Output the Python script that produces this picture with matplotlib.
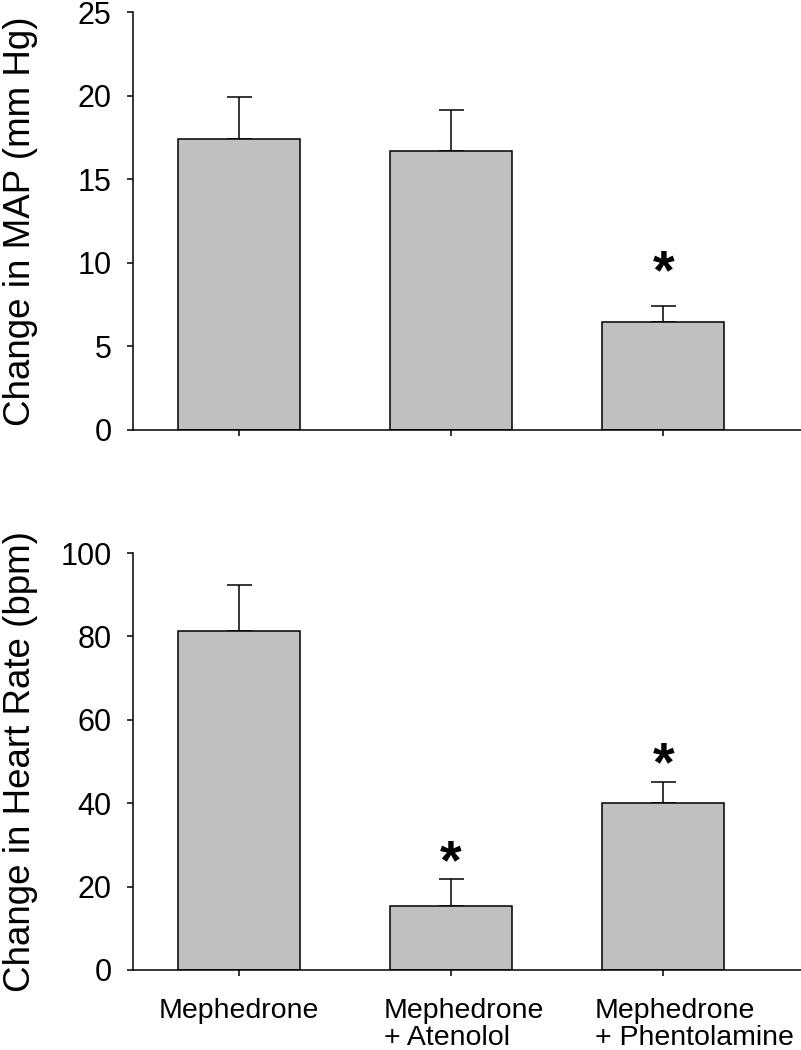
import matplotlib
matplotlib.use("Agg")
import matplotlib.pyplot as plt
from matplotlib.transforms import ScaledTranslation

plt.rcParams['font.family'] = ['Liberation Sans', 'DejaVu Sans']

# ------------------------------
# Data
# ------------------------------
groups = ["Mephedrone", "Mephedrone\n+ Atenolol", "Mephedrone\n+ Phentolamine"]

map_mean = [17.45, 16.7, 6.45]
map_sem = [2.5, 2.45, 1.0]
map_star = [None, None, 10.0]

hr_mean = [81.4, 15.3, 40.1]
hr_sem = [10.9, 6.6, 5.0]
hr_star = [None, 28.1, 51.6]

bar_color = '#c0c0c0'

fig = plt.figure(figsize=(8.01, 10.5), dpi=100)
ax_top = fig.add_axes([0.166, 0.5905, 0.834, 0.3976])
ax_bot = fig.add_axes([0.166, 0.0762, 0.834, 0.3971])

xpos = list(range(len(groups)))


def draw_panel(ax, means, sems, stars, ylim, yticks, ylabel):
    ax.bar(xpos, means, width=0.575, color=bar_color, edgecolor='black',
           linewidth=1.1, zorder=2)
    ax.errorbar(xpos, means, yerr=[[0] * len(sems), sems], fmt='none',
                ecolor='black', elinewidth=1.1, capsize=9, capthick=1.1, zorder=1)
    for x, s in zip(xpos, stars):
        if s is not None:
            # glyph sits high in its box, nudge it down
            ax.annotate('*', xy=(x, s), xytext=(0, -8), textcoords='offset points',
                        ha='center', va='center', fontsize=40, fontweight='bold')
    ax.set_xlim(-0.5, 2.65)
    ax.set_ylim(*ylim)
    ax.set_yticks(yticks)
    ax.set_xticks(xpos)
    ax.spines['top'].set_visible(False)
    ax.spines['right'].set_visible(False)
    for sp in ['left', 'bottom']:
        ax.spines[sp].set_linewidth(1.1)
    ax.tick_params(axis='y', direction='out', length=4.5, width=1.1,
                   labelsize=22, pad=11)
    ax.tick_params(axis='x', direction='out', length=4.5, width=1.1,
                   labelsize=20.5, pad=16)
    ax.set_ylabel(ylabel, fontsize=26.5, va='center')
    ax.yaxis.set_label_coords(-0.169, 0.5)


draw_panel(ax_top, map_mean, map_sem, map_star, (0, 25), [0, 5, 10, 15, 20, 25],
           "Change in MAP (mm Hg)")
draw_panel(ax_bot, hr_mean, hr_sem, hr_star, (0, 100), [0, 20, 40, 60, 80, 100],
           "Change in Heart Rate (bpm)")

ax_top.set_xticklabels([])
ax_bot.set_xticklabels(groups, multialignment='left', linespacing=1.05, va='top')

# shift the multi-line labels so their left edges line up like the original
shifts = [0.0, 0.13, 0.31]
for lab, dx in zip(ax_bot.get_xticklabels(), shifts):
    lab.set_transform(lab.get_transform() + ScaledTranslation(dx, 0, fig.dpi_scale_trans))

plt.savefig("out.png", dpi=100)
